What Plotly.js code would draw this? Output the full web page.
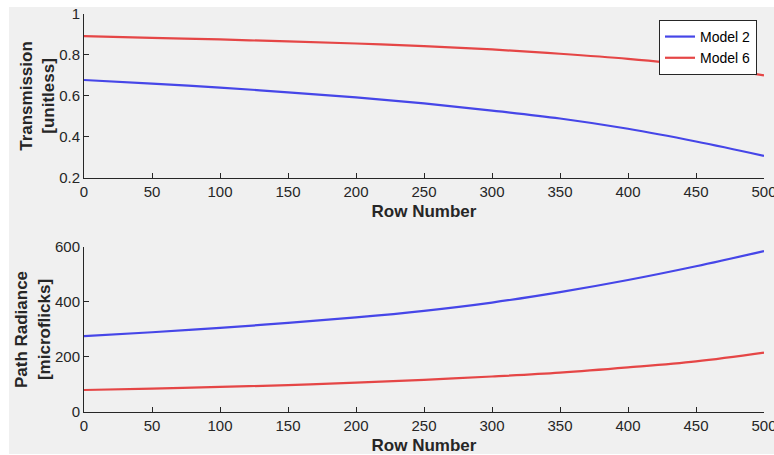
<!DOCTYPE html>
<html>
<head>
<meta charset="utf-8">
<script src="https://cdn.plot.ly/plotly-3.0.1.min.js"></script>
<style>
  html, body { margin: 0; padding: 0; background: #ffffff; width: 774px; height: 455px; overflow: hidden; }
  #chart { position: absolute; left: 0; top: 0; width: 774px; height: 455px; }
</style>
</head>
<body>
<div id="chart"></div>
<script>
// Row numbers
const rows = [0, 50, 100, 150, 200, 250, 300, 350, 400, 450, 500];
// Transmission [unitless]
const transModel2 = [0.678, 0.660, 0.641, 0.618, 0.593, 0.564, 0.529, 0.490, 0.440, 0.378, 0.308];
const transModel6 = [0.892, 0.884, 0.876, 0.866, 0.856, 0.843, 0.827, 0.806, 0.781, 0.748, 0.701];
// Path radiance [microflicks]
const radModel2 = [276, 290, 306, 324, 344, 368, 398, 436, 480, 530, 585];
const radModel6 = [80, 85, 91, 98, 107, 117, 129, 143, 162, 184, 216];
const seriesNames = ['Model 2', 'Model 6'];

const blue = '#4646e8';
const red = '#e54646';
const axisColor = '#262626';
const font = 'Liberation Sans, Arial, Helvetica, sans-serif';

const traces = [
  {x: rows, y: transModel2, name: seriesNames[0], mode: 'lines', line: {color: blue, width: 2.2, shape: 'spline'}, xaxis: 'x', yaxis: 'y'},
  {x: rows, y: transModel6, name: seriesNames[1], mode: 'lines', line: {color: red, width: 2.2, shape: 'spline'}, xaxis: 'x', yaxis: 'y'},
  {x: rows, y: radModel2, name: seriesNames[0], mode: 'lines', line: {color: blue, width: 2.2, shape: 'spline'}, xaxis: 'x2', yaxis: 'y2', showlegend: false},
  {x: rows, y: radModel6, name: seriesNames[1], mode: 'lines', line: {color: red, width: 2.2, shape: 'spline'}, xaxis: 'x2', yaxis: 'y2', showlegend: false}
];

function xAxis(anchor) {
  return {
    anchor: anchor, domain: [0, 1], range: [0, 500],
    tickmode: 'linear', tick0: 0, dtick: 50,
    ticks: 'inside', ticklen: 5, tickcolor: axisColor, tickwidth: 1,
    showline: true, linecolor: axisColor, linewidth: 1,
    showgrid: false, zeroline: false, ticklabeloverflow: 'allow',
    tickfont: {family: font, size: 15, color: axisColor},
    title: {text: '<b>Row Number</b>', font: {family: font, size: 17, color: axisColor}, standoff: 6}
  };
}
function yAxis(anchor, domain, range, dtick, title) {
  return {
    anchor: anchor, domain: domain, range: range,
    tickmode: 'linear', tick0: range[0], dtick: dtick,
    ticks: 'inside', ticklen: 5, tickcolor: axisColor, tickwidth: 1,
    showline: true, linecolor: axisColor, linewidth: 1,
    showgrid: false, zeroline: false, ticklabeloverflow: 'allow',
    tickfont: {family: font, size: 15, color: axisColor},
    title: {text: title, font: {family: font, size: 17, color: axisColor}, standoff: 0}
  };
}

const layout = {
  width: 774, height: 455,
  paper_bgcolor: '#ffffff', plot_bgcolor: '#ffffff',
  margin: {l: 84, r: 10, t: 14, b: 43},
  showlegend: true,
  shapes: [{
    type: 'rect', xref: 'paper', yref: 'paper', layer: 'below',
    x0: -0.1103, x1: 1.02, y0: -0.1055, y1: 1.0176,
    fillcolor: '#f0f0f0', line: {width: 0}
  }],
  legend: {
    x: 0.9897, xanchor: 'right', y: 0.985, yanchor: 'top',
    bgcolor: '#ffffff', bordercolor: axisColor, borderwidth: 1,
    font: {family: font, size: 14, color: '#000000'},
    itemwidth: 30, tracegroupgap: 0
  },
  xaxis: xAxis('y'),
  yaxis: yAxis('x', [0.588, 1], [0.2, 1], 0.2, '<b>Transmission<br>[unitless]</b>'),
  xaxis2: xAxis('y2'),
  yaxis2: yAxis('x2', [0, 0.4146], [0, 600], 200, '<b>Path Radiance<br>[microflicks]</b>')
};

Plotly.newPlot('chart', traces, layout, {displayModeBar: false, staticPlot: true});
</script>
</body>
</html>
